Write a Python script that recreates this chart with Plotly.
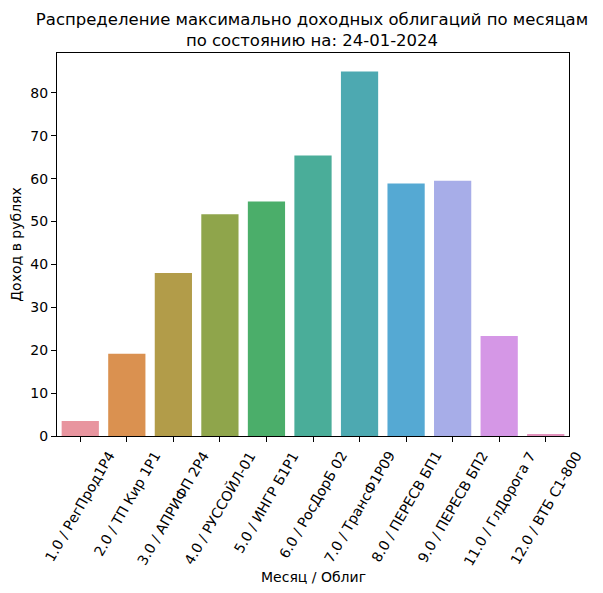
import plotly.graph_objects as go

# категории: месяц / облигация
месяцы = ["1.0", "2.0", "3.0", "4.0", "5.0", "6.0", "7.0", "8.0", "9.0", "11.0", "12.0"]
облигации = ["РегПрод1Р4", "ТП Кир 1Р1", "АПРИФП 2Р4", "РУССОЙЛ-01", "ИНГР Б1Р1",
             "РосДорБ 02", "ТрансФ1Р09", "ПЕРЕСВ БП1", "ПЕРЕСВ БП2", "ГлДорога 7", "ВТБ С1-800"]
доход = [3.5, 19.2, 38.0, 51.7, 54.7, 65.4, 85.0, 58.9, 59.5, 23.3, 0.4]

# палитра husl (seaborn, saturation 0.75)
ЦВЕТА = ["#E8959F", "#DA9150", "#B29C49", "#8FA54B", "#4BAE6A", "#4AAD99",
         "#4DA9B1", "#55A9D3", "#A7ADE8", "#D597E6", "#E292BD"]

метки = [f"{m} / {o}" for m, o in zip(месяцы, облигации)]

# страница добавляет отступ 8px слева и сверху
W, H = 595, 585

fig = go.Figure(go.Bar(
    x=метки, y=доход, width=0.8,
    marker={"color": ЦВЕТА, "line": {"width": 0}},
    hovertemplate="%{x}: %{y:.2f}<extra></extra>",
))

ось = dict(showline=True, linecolor="black", linewidth=1, mirror=True,
           ticks="outside", ticklen=5, tickcolor="black", showgrid=False,
           zeroline=False, automargin=False, tickfont=dict(size=14, color="black"))

# подписи по оси X: повёрнуты на 60°, центр по делению (как в matplotlib)
подписи = [
    dict(x=m, y=0, xref="x", yref="paper", text=m, textangle=-60,
         xanchor="center", yanchor="top", yshift=-10, showarrow=False,
         font=dict(size=14))
    for m in метки
]
подписи.append(dict(x=0.5, y=0, xref="paper", yref="paper", text="Месяц / Облиг",
                    xanchor="center", yanchor="middle", yshift=-141,
                    showarrow=False, font=dict(size=14)))

fig.update_layout(
    width=W, height=H,
    paper_bgcolor="white", plot_bgcolor="white",
    font=dict(family="DejaVu Sans", color="black"),
    margin=dict(l=49, r=34, t=45, b=157),
    showlegend=False,
    title=dict(
        text="Распределение максимально доходных облигаций по месяцам<br>по состоянию на: 24-01-2024",
        x=304 / W, xanchor="center",
        yref="container", y=1 - 17 / H, yanchor="top",
        pad=dict(t=0, b=0), automargin=False,
        font=dict(size=16.5),
    ),
    xaxis=dict(**ось, tickangle=-60, range=[-0.5, 10.5], showticklabels=False),
    yaxis=dict(**ось, range=[0, 89.3], dtick=10,
               title=dict(text="Доход в рублях", font=dict(size=14), standoff=6)),
    annotations=подписи,
)

fig.write_html("out.html")
